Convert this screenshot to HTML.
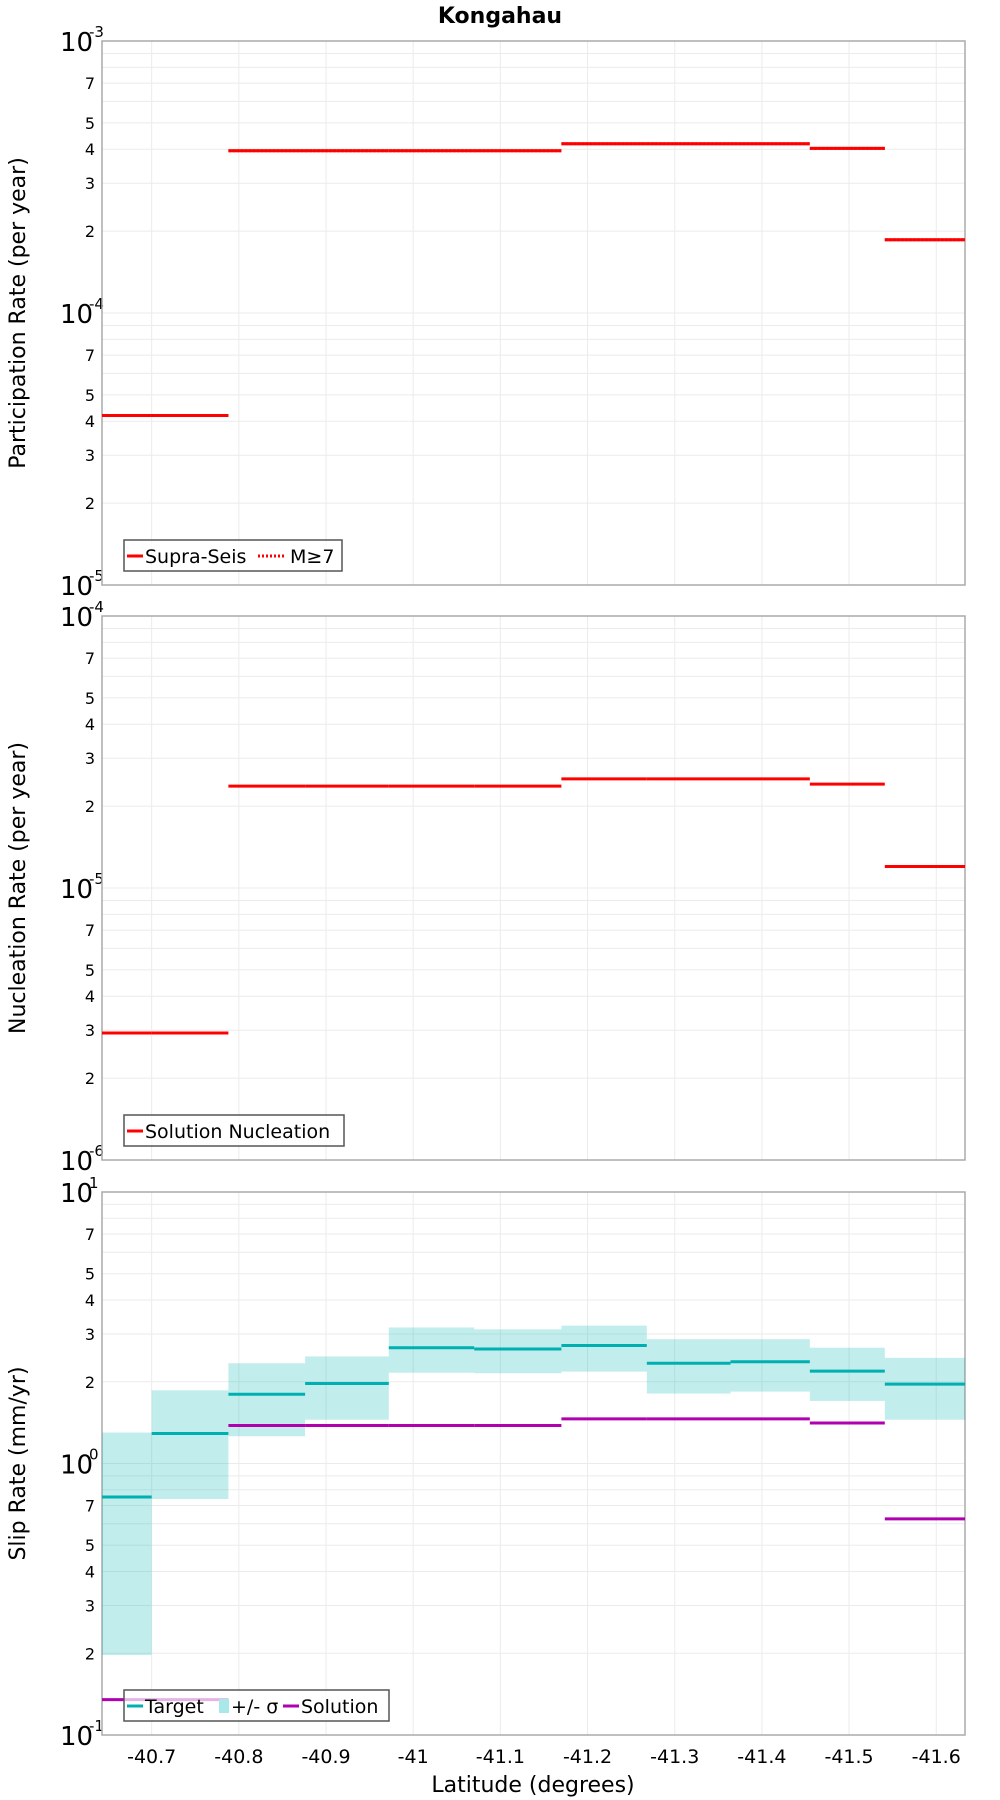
<!DOCTYPE html>
<html><head><meta charset="utf-8"><style>
html,body{margin:0;padding:0;background:#fff;}
svg{display:block;font-family:"DejaVu Sans","Liberation Sans",sans-serif;}
</style></head><body>
<svg id="chart" width="1000" height="1800" viewBox="0 0 1000 1800" xmlns="http://www.w3.org/2000/svg">
<text x="500" y="23" text-anchor="middle" font-size="22" font-weight="bold">Kongahau</text>
</svg>
<script>
// section boundaries (latitude)
const boundaries = [-40.643,-40.700,-40.788,-40.876,-40.972,-41.070,-41.170,-41.268,-41.364,-41.455,-41.541,-41.633];
const xTicks = [-40.7,-40.8,-40.9,-41,-41.1,-41.2,-41.3,-41.4,-41.5,-41.6];
const xTickLabels = ["-40.7","-40.8","-40.9","-41","-41.1","-41.2","-41.3","-41.4","-41.5","-41.6"];
const supraSeis = [4.2e-5,4.2e-5,3.95e-4,3.95e-4,3.95e-4,3.95e-4,4.19e-4,4.19e-4,4.19e-4,4.03e-4,1.86e-4];
const mGe7 = [4.2e-5,4.2e-5,3.95e-4,3.95e-4,3.95e-4,3.95e-4,4.19e-4,4.19e-4,4.19e-4,4.03e-4,1.86e-4];
const nucleation = [2.93e-6,2.93e-6,2.37e-5,2.37e-5,2.37e-5,2.37e-5,2.52e-5,2.52e-5,2.52e-5,2.41e-5,1.2e-5];
const slipTarget = [0.753,1.29,1.80,1.97,2.67,2.64,2.72,2.34,2.37,2.19,1.96];
const slipUpper = [1.30,1.86,2.34,2.48,3.17,3.12,3.22,2.87,2.87,2.67,2.45];
const slipLower = [0.197,0.740,1.26,1.45,2.16,2.15,2.18,1.81,1.84,1.70,1.45];
const slipSolution = [0.135,0.135,1.38,1.38,1.38,1.38,1.46,1.46,1.46,1.41,0.625];

const NS="http://www.w3.org/2000/svg";
const svg=document.getElementById('chart');
const L=102,R=965;
const xMin=-40.643,xMax=-41.633;
function xs(v){return L+(v-xMin)/(xMax-xMin)*(R-L);}
function mk(tag,attrs,parent){const e=document.createElementNS(NS,tag);for(const k in attrs)e.setAttribute(k,attrs[k]);(parent||svg).appendChild(e);return e;}

function panel(name,top,bot,dTop,dBot,title){
  const g=mk('g',{});
  
  
  const ys=v=>top+(dTop-Math.log10(v))/(dTop-dBot)*(bot-top);
  for(let d=dBot;d<dTop;d++){for(let m=1;m<=9;m++){const y=ys(m*Math.pow(10,d));
    if(m>1||d>dBot){const l=mk('line',{x1:L,x2:R,y1:y,y2:y,stroke:'#ebebeb','stroke-width':1},g);}
    if([2,3,4,5,7].includes(m)){const t=mk('text',{x:95,y:y+6,'text-anchor':'end','font-size':16},g);t.textContent=m;}
  }}
  for(let d=dBot;d<=dTop;d++){const y=ys(Math.pow(10,d));
    const t=mk('text',{x:60,y:y+10,'font-size':26},g);t.textContent='10';
    const s=mk('text',{x:89,y:y-4,'font-size':15},g);s.textContent=String(d);
  }
  xTicks.forEach(v=>{const x=xs(v);const l=mk('line',{x1:x,x2:x,y1:top,y2:bot,stroke:'#ebebeb','stroke-width':1},g);});
  const fr=mk('rect',{x:L,y:top,width:R-L,height:bot-top,fill:'none',stroke:'#aaa','stroke-width':1.5},g);
  
  const yt=mk('text',{x:0,y:0,'text-anchor':'middle','font-size':22,transform:`translate(25,${(top+bot)/2}) rotate(-90)`},g);
  yt.textContent=title;
  return {g,ys};
}
function steps(p,vals,color,name,dash,w){
  vals.forEach((v,i)=>{const y=p.ys(v);const a={x1:xs(boundaries[i]),x2:xs(boundaries[i+1]),y1:y,y2:y,stroke:color,'stroke-width':w||3};if(dash)a['stroke-dasharray']=dash;
    const l=mk('line',a,p.g);});
}
function legend(p,x,y,w,items){
  const lg=mk('g',{},p.g);
  mk('rect',{x:x,y:y,width:w,height:31,fill:'rgba(255,255,255,0.7)',stroke:'#555','stroke-width':1.5},lg);
  items.forEach(it=>{
    if(it.rect){mk('rect',{x:it.x,y:y+9,width:10,height:14,fill:it.color},lg);}
    else{const a={x1:it.x,x2:it.x+(it.len||16),y1:y+16,y2:y+16,stroke:it.color,'stroke-width':3};if(it.dash)a['stroke-dasharray']=it.dash;mk('line',a,lg);}
    const t=mk('text',{x:it.tx,y:y+23,'font-size':19},lg);t.textContent=it.label;
    
  });
}
const p1=panel('participation-panel',41,585,-3,-5,'Participation Rate (per year)');
steps(p1,supraSeis,'#ff0000','supra-seis-line');
steps(p1,mGe7,'#ff0000','m7-line','3 1',3);
legend(p1,124,540,218,[{x:127,tx:145,color:'#ff0000',label:'Supra-Seis'},{x:258,len:27,tx:290,color:'#ff0000',dash:'2 2',label:'M≥7'}]);
const p2=panel('nucleation-panel',616,1160,-4,-6,'Nucleation Rate (per year)');
steps(p2,nucleation,'#ff0000','nucleation-line');
legend(p2,124,1115,220,[{x:127,tx:145,color:'#ff0000',label:'Solution Nucleation'}]);
const p3=panel('slip-panel',1192,1735,1,-1,'Slip Rate (mm/yr)');
slipUpper.forEach((u,i)=>{const y1=p3.ys(u),y2=p3.ys(slipLower[i]);const x1=xs(boundaries[i]),x2=xs(boundaries[i+1]);
  const r=mk('rect',{x:x1,y:y1,width:x2-x1,height:y2-y1,fill:'rgba(0,180,180,0.24)'},p3.g);});
steps(p3,slipTarget,'#00b0b0','target-line');
steps(p3,slipSolution,'#b000b0','solution-line');
legend(p3,124,1690,265,[{x:127,tx:145,color:'#00b0b0',label:'Target'},{x:219,tx:231,color:'#a8e8e8',rect:true,label:'+/- σ'},{x:283,tx:301,color:'#b000b0',label:'Solution'}]);
xTicks.forEach((v,i)=>{const t=mk('text',{x:xs(v),y:1763,'text-anchor':'middle','font-size':19});t.textContent=xTickLabels[i];});
const xt=mk('text',{x:533,y:1792,'text-anchor':'middle','font-size':22});xt.textContent='Latitude (degrees)';


</script>
</body></html>
